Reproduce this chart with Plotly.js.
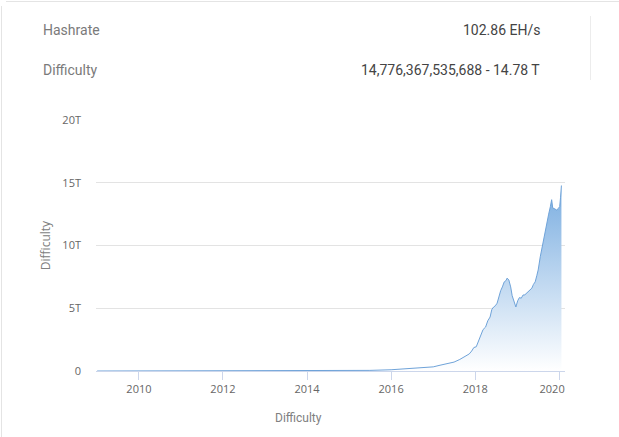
<!DOCTYPE html>
<html>
<head>
<meta charset="utf-8">
<script src="https://cdn.plot.ly/plotly-3.0.1.min.js"></script>
<style>
html,body{margin:0;padding:0;background:#fff;}
#chart{width:619px;height:437px;}
</style>
</head>
<body>
<div id="chart"></div>
<script>
// Difficulty history (values in T)
var dates = [
 "2009-01-03","2010-07-01","2011-06-01","2012-01-01","2013-01-01","2013-07-01",
 "2014-01-01","2014-07-01","2015-01-01","2015-07-01","2016-01-01","2016-07-01",
 "2016-10-10","2017-01-01","2017-03-01","2017-05-01","2017-07-01","2017-08-20",
 "2017-10-01","2017-11-10","2017-12-01","2017-12-20","2018-01-10","2018-02-01",
 "2018-02-20","2018-03-10","2018-04-01","2018-04-20","2018-05-10","2018-05-25",
 "2018-06-10","2018-06-25","2018-07-10","2018-07-25","2018-08-10","2018-08-25",
 "2018-09-10","2018-09-25","2018-10-05","2018-10-20","2018-11-05","2018-11-18",
 "2018-12-01","2018-12-20","2019-01-05","2019-01-20","2019-02-05","2019-02-20",
 "2019-03-08","2019-03-25","2019-04-10","2019-04-25","2019-05-08","2019-05-22",
 "2019-06-06","2019-06-20","2019-07-02","2019-07-20","2019-08-05","2019-08-18",
 "2019-09-01","2019-09-17","2019-10-01","2019-10-16","2019-10-27","2019-11-05",
 "2019-11-12","2019-11-25","2019-12-10","2019-12-24","2020-01-05","2020-01-12",
 "2020-01-20"
];
var difficultyT = [
 0.000000001,0.0000001,0.0000015,0.0000012,0.0000034,0.00003,
 0.0014,0.017,0.040,0.049,0.10,0.21,
 0.25,0.33,0.46,0.56,0.71,0.92,
 1.12,1.36,1.59,1.87,1.93,2.50,
 2.90,3.30,3.50,4.00,4.30,4.90,
 5.10,5.20,5.40,5.95,6.40,6.70,
 7.10,7.20,7.40,7.25,6.70,6.00,
 5.65,5.10,5.60,5.85,5.80,6.05,
 6.07,6.20,6.35,6.50,6.60,6.90,
 7.10,7.60,8.05,9.10,9.90,10.30,
 11.10,12.00,12.50,13.10,13.65,13.00,
 12.96,12.90,12.83,12.95,13.10,13.80,
 14.78
];
var yTickVals = [0, 5, 10, 15, 20];
var yTickText = ["0", "5T", "10T", "15T", "20T"];
var xTickVals = ["2010-01-01","2012-01-01","2014-01-01","2016-01-01","2018-01-01","2020-01-01"];
var xTickText = ["2010","2012","2014","2016","2018","2020\u00a0\u00a0\u00a0\u00a0\u00a0"];
var headerLabels = ["Hashrate", "Difficulty"];
var headerValues = ["102.86 EH/s", "14,776,367,535,688 - 14.78 T"];

var W = 619, H = 437, L = 96, R = 54, T = 120, B = 66;
var pw = W - L - R, ph = H - T - B;
function px(x){ return (x - L) / pw; }
function py(y){ return (H - B - y) / ph; }

var trace = {
  x: dates,
  y: difficultyT,
  type: "scatter",
  mode: "lines",
  line: {color: "#6fa3d9", width: 1},
  fill: "tozeroy",
  fillgradient: {
    type: "vertical",
    start: 0,
    stop: 15,
    colorscale: [[0, "rgba(255,255,255,1)"], [1, "rgb(120,172,224)"]]
  },
  hoverinfo: "skip"
};

var annotations = [];
var rowsY = [30, 70];
for (var i = 0; i < headerLabels.length; i++) {
  annotations.push({
    xref: "paper", yref: "paper", x: px(41), y: py(rowsY[i]),
    xanchor: "left", yanchor: "middle", showarrow: false,
    text: headerLabels[i],
    font: {family: "Roboto, sans-serif", size: 14, color: "#7a7a7a"}
  });
  annotations.push({
    xref: "paper", yref: "paper", x: px(542), y: py(rowsY[i]),
    xanchor: "right", yanchor: "middle", showarrow: false,
    text: headerValues[i],
    font: {family: "Roboto, sans-serif", size: 14, color: "#444"}
  });
}
annotations.push({
  xref: "paper", yref: "paper", x: px(298), y: py(418),
  xanchor: "center", yanchor: "middle", showarrow: false,
  text: "Difficulty",
  font: {family: "Roboto, sans-serif", size: 12, color: "#808080"}
});

var shapes = [
  {type: "line", xref: "paper", yref: "paper", x0: px(590.5), x1: px(590.5), y0: py(16), y1: py(80),
   line: {color: "#ececec", width: 1}},
  {type: "line", xref: "paper", yref: "paper", x0: px(6), x1: px(619), y0: py(1.5), y1: py(1.5),
   line: {color: "#e4e4e4", width: 1}},
  {type: "line", xref: "paper", yref: "paper", x0: px(1.5), x1: px(1.5), y0: py(6), y1: py(437),
   line: {color: "#e4e4e4", width: 1}}
];

var layout = {
  width: W, height: H,
  margin: {l: L, r: R, t: T, b: B, pad: 0},
  paper_bgcolor: "#fff", plot_bgcolor: "#fff",
  showlegend: false,
  font: {family: "Open Sans, DejaVu Sans, sans-serif", size: 11, color: "#666"},
  xaxis: {
    type: "date",
    range: ["2008-12-24", "2020-02-20"],
    tickvals: xTickVals, ticktext: xTickText,
    showgrid: false, zeroline: false,
    showline: true, linecolor: "#ccd6eb", linewidth: 1,
    ticks: "outside", ticklen: 8, tickcolor: "#ccd6eb",
    tickfont: {size: 11, color: "#666"},
    fixedrange: true
  },
  yaxis: {
    range: [0, 20],
    tickvals: yTickVals, ticktext: yTickText,
    showgrid: true, gridcolor: "#e3e3e3", gridwidth: 1,
    zeroline: false, showline: false, ticks: "",
    ticklabelstandoff: 14,
    tickfont: {size: 11, color: "#666"},
    title: {text: "Difficulty", standoff: 9, font: {family: "Open Sans, sans-serif", size: 12, color: "#808080"}},
    fixedrange: true
  },
  annotations: annotations,
  shapes: shapes
};

Plotly.newPlot("chart", [trace], layout, {displayModeBar: false, staticPlot: true});
</script>
</body>
</html>
